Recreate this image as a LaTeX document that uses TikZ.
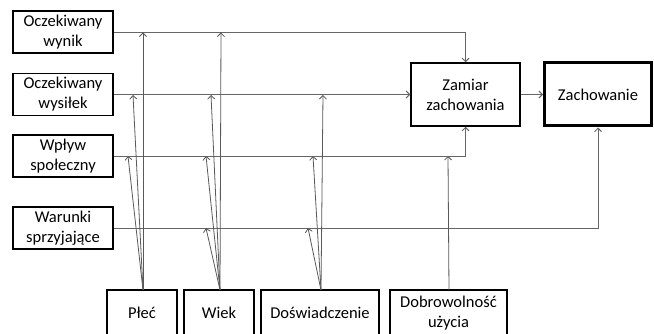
\documentclass[tikz,border=0pt]{standalone}
\usepackage{fontspec}
\setmainfont{Carlito}
\usetikzlibrary{arrows.meta}
\begin{document}
\begin{tikzpicture}[x=1pt,y=-1pt,
  box/.style={draw=black, line width=1.5pt, align=center, inner sep=0pt,
    font=\fontsize{16.5}{20}\selectfont},
  lbox/.style={box, minimum width=100pt, minimum height=42pt},
  bbox/.style={box, minimum height=46pt},
  conn/.style={draw=black!60, line width=0.9pt, -{Straight Barb[length=3.5pt,width=7pt]}},
  mod/.style={draw=black!65, line width=0.8pt, -{Straight Barb[length=3.5pt,width=7pt]}}]
\clip (0,0) rectangle (654,334);
\fill[white] (0,0) rectangle (654,334);
% left boxes
\node[lbox] (wynik) at (63,32) {Oczekiwany\\wynik};
\node[lbox] (wysilek) at (63,94.5) {Oczekiwany\\wysiłek};
\node[lbox] (spol) at (63,156) {Wpływ\\społeczny};
\node[lbox] (war) at (63,228) {Warunki\\sprzyjające};
% main boxes
\node[box, minimum width=109pt, minimum height=63pt] (zamiar) at (465.5,94.5) {Zamiar\\zachowania};
\node[box, line width=3pt, minimum width=107pt, minimum height=63pt] (zach) at (598,94.5) {Zachowanie};
% bottom boxes
\node[bbox, minimum width=70pt] (plec) at (142,313) {Płeć};
\node[bbox, minimum width=70pt] (wiek) at (219,313) {Wiek};
\node[bbox, minimum width=118pt] (dosw) at (320,313) {Doświadczenie};
\node[bbox, minimum width=117pt] (dobr) at (448.5,313) {Dobrowolność\\użycia};
% main connectors
\draw[conn] (wynik.east) -| (zamiar.north);
\draw[conn] (wysilek.east) -- (zamiar.west);
\draw[conn] (spol.east) -| (zamiar.south);
\draw[conn] (war.east) -| (zach.south);
\draw[conn] (zamiar.east) -- (zach.west);
% moderator targets
\coordinate (p1) at (143,32.5);
\coordinate (p2) at (133,95);
\coordinate (p3) at (128,156);
\coordinate (w1) at (221,32.5);
\coordinate (w2) at (211,95);
\coordinate (w3) at (206,156);
\coordinate (w4) at (206,228);
\coordinate (d2) at (323,95);
\coordinate (d3) at (313,156);
\coordinate (d4) at (308,228);
\coordinate (v3) at (448,156);
% moderator origins
\coordinate (po) at (143,290);
\coordinate (wo) at (220,290);
\coordinate (do) at (321,290);
\coordinate (vo) at (449,290);
\draw[mod] (po) -- (p1);
\draw[mod] (po) -- (p2);
\draw[mod] (po) -- (p3);
\draw[mod] (wo) -- (w1);
\draw[mod] (wo) -- (w2);
\draw[mod] (wo) -- (w3);
\draw[mod] (wo) -- (w4);
\draw[mod] (do) -- (d2);
\draw[mod] (do) -- (d3);
\draw[mod] (do) -- (d4);
\draw[mod] (vo) -- (v3);
\end{tikzpicture}
\end{document}
